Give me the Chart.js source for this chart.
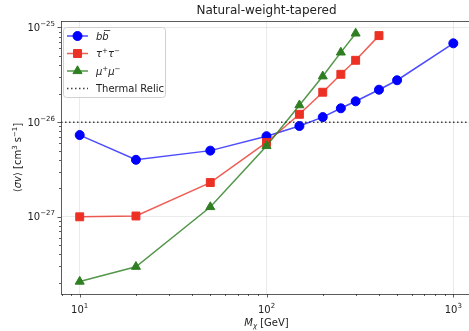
<!DOCTYPE html>
<html><head><meta charset="utf-8">
<script src="https://cdn.jsdelivr.net/npm/chart.js@4/dist/chart.umd.min.js"></script>
<style>html,body{margin:0;padding:0;overflow:hidden;background:#fff}#wrap{width:480px;height:331px}</style>
</head><body><div id="wrap"><canvas id="c" width="480" height="331"></canvas></div>
<script>
// ---- data ----
const chartTitle = 'Natural-weight-tapered';
const massBB  = [10, 20, 50, 100, 150, 200, 250, 300, 400, 500, 1000];
const sigvBB  = [7.3e-27, 4.0e-27, 5.0e-27, 7.1e-27, 9.1e-27, 1.13e-26, 1.4e-26, 1.66e-26, 2.2e-26, 2.77e-26, 6.8e-26];
const massTau = [10, 20, 50, 100, 150, 200, 250, 300, 400];
const sigvTau = [1.0e-27, 1.02e-27, 2.3e-27, 6.1e-27, 1.21e-26, 2.07e-26, 3.2e-26, 4.5e-26, 8.2e-26];
const massMu  = [10, 20, 50, 100, 150, 200, 250, 300];
const sigvMu  = [2.07e-28, 2.97e-28, 1.27e-27, 5.6e-27, 1.51e-26, 3.05e-26, 5.45e-26, 8.65e-26];
const thermalRelic = 1e-26;
const xMajorTicks = [10, 100, 1000];
const xMajorExp = ['1', '2', '3'];
const yMajorTicks = [1e-27, 1e-26, 1e-25];
const yMajorExp = ['\u221227', '\u221226', '\u221225'];
const xLimits = [7.94, 1259];
const yLimits = [1.53e-28, 1.17e-25];

const FONT = 'DejaVu Sans';
function isDecade(v){ const l = Math.log10(v); return Math.abs(l - Math.round(l)) < 1e-6; }
function logTicks(min, max){
  const out = [];
  for (let k = Math.floor(Math.log10(min)); k <= Math.ceil(Math.log10(max)); k++){
    for (let m = 1; m <= 9; m++){
      const v = m * Math.pow(10, k);
      if (v >= min*0.9999 && v <= max*1.0001) out.push(v);
    }
  }
  return out;
}
const toXY = (xs, ys) => xs.map((x,i)=>({x, y: ys[i]}));

// rich text: segs = [{t, it, sz, dy}]
function richWidth(c, segs){
  let w = 0;
  segs.forEach(s=>{ c.font = (s.it?'italic ':'') + (s.sz||10) + 'px ' + FONT; w += c.measureText(s.t).width; });
  return w;
}
function drawRich(c, x, y, segs, align){
  const w = richWidth(c, segs);
  let tx = align === 'center' ? x - w/2 : align === 'right' ? x - w : x;
  c.textAlign = 'left'; c.textBaseline = 'alphabetic';
  segs.forEach(s=>{
    c.font = (s.it?'italic ':'') + (s.sz||10) + 'px ' + FONT;
    c.fillText(s.t, tx, y + (s.dy||0));
    tx += c.measureText(s.t).width;
  });
  return w;
}

const deco = {
  id: 'deco',
  beforeDraw(chart){
    const c = chart.ctx; c.save(); c.fillStyle='#fff'; c.fillRect(0,0,chart.width,chart.height); c.restore();
  },
  afterDatasetsDraw(chart){
    const c = chart.ctx, a = chart.chartArea, xs = chart.scales.x, ys = chart.scales.y;
    c.save();
    // tick marks
    c.strokeStyle = '#333'; c.lineWidth = 0.8;
    logTicks(xLimits[0], xLimits[1]).forEach(v=>{
      const px = Math.round(xs.getPixelForValue(v))+0.5, len = isDecade(v)?3.5:2;
      c.beginPath(); c.moveTo(px, a.bottom); c.lineTo(px, a.bottom+len); c.stroke();
    });
    logTicks(yLimits[0], yLimits[1]).forEach(v=>{
      const py = Math.round(ys.getPixelForValue(v))+0.5, len = isDecade(v)?3.5:2;
      c.beginPath(); c.moveTo(a.left, py); c.lineTo(a.left-len, py); c.stroke();
    });
    // frame
    c.strokeStyle = '#333'; c.lineWidth = 0.8;
    c.strokeRect(Math.round(a.left)+0.5, Math.round(a.top)+0.5, Math.round(a.right-a.left), Math.round(a.bottom-a.top));
    // tick labels
    c.fillStyle = '#222';
    xMajorTicks.forEach((v,i)=>{
      const px = xs.getPixelForValue(v);
      drawRich(c, px, 313, [{t:'10', sz:10}, {t:xMajorExp[i], sz:7, dy:-5}], 'center');
    });
    yMajorTicks.forEach((v,i)=>{
      const py = ys.getPixelForValue(v);
      drawRich(c, 55, py+3.5, [{t:'10', sz:10}, {t:yMajorExp[i], sz:7, dy:-5}], 'right');
    });
    // legend
    const bx = 63, by = 27, bw = 102, bh = 70;
    c.fillStyle = 'rgba(255,255,255,0.85)'; c.strokeStyle = '#d0d0d0'; c.lineWidth = 1;
    c.beginPath(); c.roundRect(bx+0.5, by+0.5, bw, bh, 3); c.fill(); c.stroke();
    const ds = chart.data.datasets;
    const rows = [36, 53.5, 71, 88.5];
    const texts = [
      [{t:'bb', it:true}],
      [{t:'\u03C4', it:true}, {t:'+', sz:7, dy:-4}, {t:'\u03C4', it:true}, {t:'\u2212', sz:7, dy:-4}],
      [{t:'\u03BC', it:true}, {t:'+', sz:7, dy:-4}, {t:'\u03BC', it:true}, {t:'\u2212', sz:7, dy:-4}],
      [{t:'Thermal Relic'}]
    ];
    ds.forEach((d, i)=>{
      const y = rows[i];
      c.save();
      c.strokeStyle = d.borderColor; c.lineWidth = d.borderWidth;
      if (d.borderDash) c.setLineDash(d.borderDash);
      c.beginPath(); c.moveTo(67, y); c.lineTo(88, y); c.stroke();
      c.restore();
      if (d.pointRadius > 0){
        c.save(); c.fillStyle = d.pointBackgroundColor; c.strokeStyle = d.pointBorderColor; c.lineWidth=1;
        Chart.helpers.drawPoint(c, {pointStyle: d.pointStyle, radius: d.pointRadius, borderWidth: 1, rotation:0}, 77.5, y);
        c.restore();
      }
      c.fillStyle = '#222';
      drawRich(c, 96, y+3.5, texts[i], 'left');
      if (i === 0){
        c.font = 'italic 10px '+FONT;
        const wb = c.measureText('b').width;
        c.strokeStyle = '#222'; c.lineWidth = 0.8;
        c.beginPath(); c.moveTo(96+wb+1.5, y-5.5); c.lineTo(96+2*wb+1.5, y-5.5); c.stroke();
      }
    });
    c.restore();
  },
  afterDraw(chart){
    const c = chart.ctx, a = chart.chartArea;
    c.save();
    c.fillStyle = '#222'; c.textAlign = 'center'; c.textBaseline = 'middle';
    c.font = '12px '+FONT;
    c.fillText(chartTitle, (a.left+a.right)/2, 11);
    // x title
    drawRich(c, (a.left+a.right)/2, 326, [{t:'M', it:true}, {t:'\u03C7', it:true, sz:7, dy:2}, {t:' [GeV]'}], 'center');
    // y title
    c.translate(21, (a.top+a.bottom)/2); c.rotate(-Math.PI/2);
    drawRich(c, 0, 0, [{t:'\u27E8'}, {t:'\u03C3v', it:true}, {t:'\u27E9 [cm'}, {t:'3', sz:7, dy:-4}, {t:' s'}, {t:'\u22121', sz:7, dy:-4}, {t:']'}], 'center');
    c.restore();
  }
};

new Chart(document.getElementById('c'), {
  type: 'line',
  data: {
    datasets: [
      { label: 'bb', data: toXY(massBB, sigvBB), borderColor: 'rgba(0,0,255,0.7)', borderWidth: 1.5,
        pointStyle: 'circle', pointRadius: 4.5, pointBackgroundColor: '#0000ff', pointBorderColor: '#0000ff', pointBorderWidth: 1, order: 4 },
      { label: 'tautau', data: toXY(massTau, sigvTau), borderColor: 'rgba(234,40,30,0.75)', borderWidth: 1.5,
        pointStyle: 'rect', pointRadius: 5.6, pointBackgroundColor: '#ec3124', pointBorderColor: '#ec3124', pointBorderWidth: 1, order: 3 },
      { label: 'mumu', data: toXY(massMu, sigvMu), borderColor: 'rgba(40,125,30,0.8)', borderWidth: 1.5,
        pointStyle: 'triangle', pointRadius: 5.2, pointBackgroundColor: '#2f7f22', pointBorderColor: '#2f7f22', pointBorderWidth: 1, order: 2 },
      { label: 'Thermal Relic', data: [{x: xLimits[0], y: thermalRelic}, {x: xLimits[1], y: thermalRelic}],
        borderColor: 'rgba(30,30,30,0.85)', borderWidth: 1.5, borderDash: [1.5, 2.5], pointRadius: 0, order: 1 }
    ]
  },
  options: {
    responsive: false, animation: false, devicePixelRatio: 1,
    layout: { padding: { left: 0, top: 21, right: 8, bottom: 0 } },
    plugins: { legend: { display: false }, tooltip: { enabled: false }, title: { display: false } },
    elements: { line: { tension: 0 } },
    scales: {
      x: { type: 'logarithmic', min: xLimits[0], max: xLimits[1],
        afterBuildTicks: s => { s.ticks = logTicks(xLimits[0], xLimits[1]).map(v=>({value: v, major: isDecade(v)})); },
        afterFit: s => { s.height = 37; },
        grid: { drawTicks: false, color: ctx => (ctx.tick && isDecade(ctx.tick.value)) ? 'rgba(0,0,0,0.1)' : 'rgba(0,0,0,0)', lineWidth: 0.8 },
        border: { display: false },
        ticks: { display: false, autoSkip: false } },
      y: { type: 'logarithmic', min: yLimits[0], max: yLimits[1],
        afterBuildTicks: s => { s.ticks = logTicks(yLimits[0], yLimits[1]).map(v=>({value: v, major: isDecade(v)})); },
        afterFit: s => { s.width = 61; },
        grid: { drawTicks: false, color: ctx => (ctx.tick && isDecade(ctx.tick.value)) ? 'rgba(0,0,0,0.1)' : 'rgba(0,0,0,0)', lineWidth: 0.8 },
        border: { display: false },
        ticks: { display: false, autoSkip: false } }
    }
  },
  plugins: [deco]
});
</script></body></html>
